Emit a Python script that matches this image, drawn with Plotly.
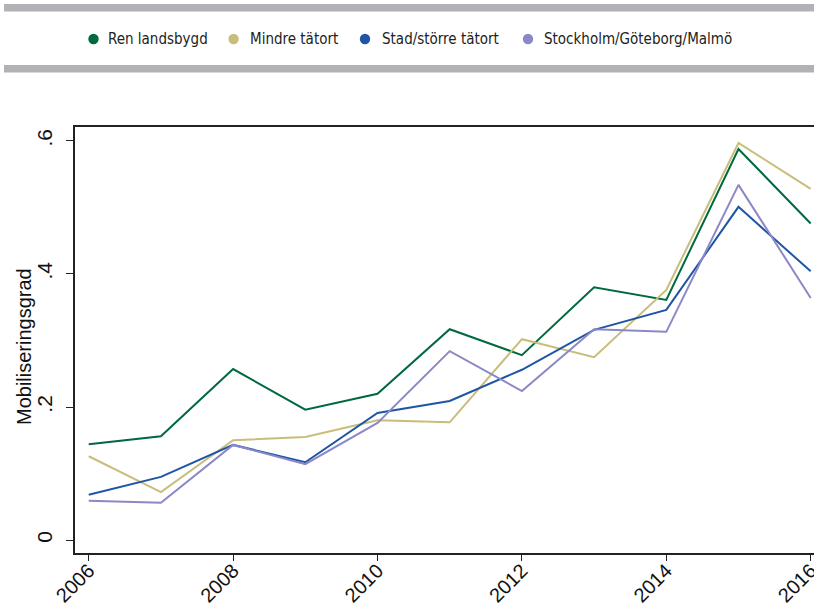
import plotly.graph_objects as go

years = [2006, 2007, 2008, 2009, 2010, 2011, 2012, 2013, 2014, 2015, 2016]
ren_landsbygd = [0.144, 0.156, 0.257, 0.196, 0.220, 0.317, 0.278, 0.380, 0.361, 0.588, 0.476]
mindre_tatort = [0.126, 0.072, 0.150, 0.155, 0.180, 0.177, 0.302, 0.275, 0.376, 0.597, 0.528]
stad_storre = [0.068, 0.095, 0.143, 0.117, 0.191, 0.209, 0.256, 0.316, 0.346, 0.501, 0.404]
storstad = [0.059, 0.056, 0.143, 0.114, 0.176, 0.284, 0.224, 0.317, 0.313, 0.534, 0.364]

series_names = ["Ren landsbygd", "Mindre tätort", "Stad/större tätort", "Stockholm/Göteborg/Malmö"]
series_values = [ren_landsbygd, mindre_tatort, stad_storre, storstad]
colors = ["#00693e", "#c9bd7b", "#1f55a5", "#8b88c6"]

y_tickvals = [0, 0.2, 0.4, 0.6]
y_ticktext = ["0", ".2", ".4", ".6"]
x_tickvals = [2006, 2008, 2010, 2012, 2014, 2016]

W, H = 814, 607
L, R, T, B = 75, 0, 127, 54
PW, PH = W - L - R, H - T - B


def px(x):
    return (x - L) / PW


def py(y):
    return (H - B - y) / PH


fig = go.Figure()
for name, vals, c in zip(series_names, series_values, colors):
    fig.add_trace(go.Scatter(x=years, y=vals, mode="lines", name=name,
                             line=dict(color=c, width=2), showlegend=False))

shapes = []
annotations = []
# gray bars
for y0, y1 in [(4, 11.5), (65, 72.5)]:
    shapes.append(dict(type="rect", xref="paper", yref="paper",
                       x0=px(4), x1=px(814), y0=py(y1), y1=py(y0),
                       fillcolor="#b1b2b5", line=dict(width=0)))
dot_x = [93.5, 233.6, 365, 528]
text_x = [106, 248, 379.5, 541.5]
ly = 39
r = 5.2
for name, c, dx, tx in zip(series_names, colors, dot_x, text_x):
    shapes.append(dict(type="circle", xref="paper", yref="paper",
                       x0=px(dx - r), x1=px(dx + r), y0=py(ly + r), y1=py(ly - r),
                       fillcolor=c, line=dict(width=0)))
    annotations.append(dict(xref="paper", yref="paper", x=px(tx), y=py(ly),
                            text=name, showarrow=False, xanchor="left", yanchor="middle",
                            font=dict(family="DejaVu Sans Condensed, Roboto", size=15, color="#222")))

# y axis title
annotations.append(dict(xref="paper", yref="paper", x=px(24), y=py(346),
                        text="Mobiliseringsgrad", textangle=-90, showarrow=False,
                        xanchor="center", yanchor="middle",
                        font=dict(family="Liberation Sans", size=20, color="#111")))

fig.update_layout(
    width=W, height=H,
    margin=dict(l=L, r=R, t=T, b=B),
    paper_bgcolor="white", plot_bgcolor="white",
    shapes=shapes, annotations=annotations,
    font=dict(family="Liberation Sans", color="#111"),
    xaxis=dict(range=[2005.81, 2016.046], tickvals=x_tickvals, tickangle=-45,
               ticks="outside", ticklen=6, tickwidth=1.3, tickcolor="#222",
               showline=True, linewidth=2.2, linecolor="#222", mirror=True,
               showgrid=False, zeroline=False, automargin=False,
               ticklabelstandoff=-10, ticklabeloverflow="allow",
               tickfont=dict(family="Liberation Sans", size=20, color="#111")),
    yaxis=dict(range=[-0.0195, 0.621], tickvals=y_tickvals, ticktext=y_ticktext,
               tickangle=-90, ticks="outside", ticklen=7, tickwidth=1.3, tickcolor="#222",
               showline=True, linewidth=2.2, linecolor="#222",
               showgrid=False, zeroline=False, automargin=False,
               ticklabelstandoff=6, ticklabeloverflow="allow",
               tickfont=dict(family="Liberation Sans", size=21, color="#111")),
)

fig.write_html("out.html", config={"displayModeBar": False},
               post_script="document.body.style.margin='0';document.body.style.padding='0';document.body.style.overflow='hidden';")
